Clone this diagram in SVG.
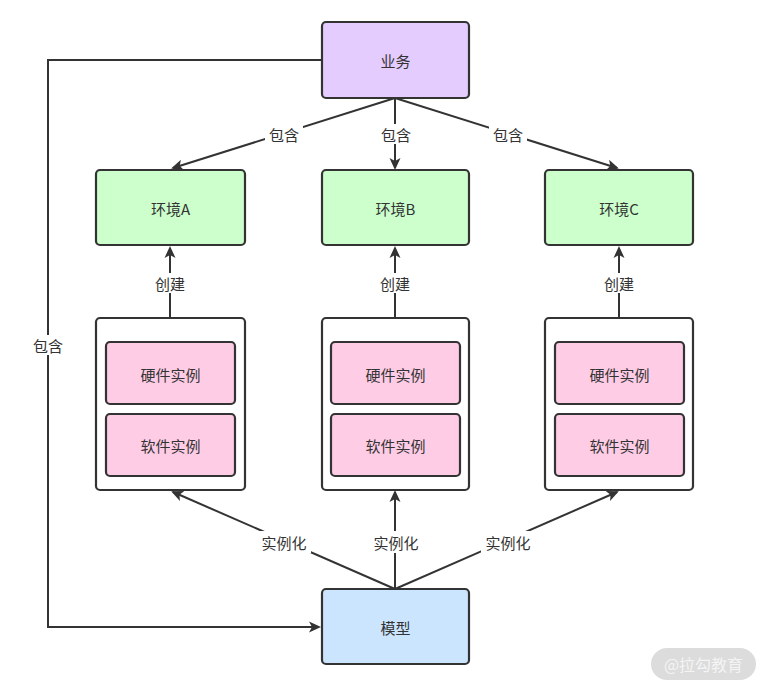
<svg xmlns="http://www.w3.org/2000/svg" width="768" height="688" viewBox="0 0 768 688">
<style>
.box{stroke:#333;stroke-width:2.2}
.t{font-family:"Noto Sans CJK SC","Liberation Sans",sans-serif;font-size:15px;fill:#333;text-anchor:middle;dominant-baseline:central}
.e{fill:none;stroke:#333;stroke-width:2}
.lbl{fill:#fff}
</style>
<defs>
<marker id="ah" markerWidth="12" markerHeight="12" refX="10" refY="6" orient="auto" markerUnits="userSpaceOnUse" viewBox="0 0 12 12">
<path d="M0,0.5 L12,6 L0,11.5 L3,6 Z" fill="#333"/>
</marker>
</defs>
<rect width="768" height="688" fill="#fff"/>
<g id="connectors">
<path class="e" d="M322,60 H48 V627 H319" marker-end="url(#ah)"/>
<rect class="lbl" x="30" y="335" width="36" height="20"/>
<text class="t" x="48" y="345">包含</text>
<path class="e" d="M395,98 L173,168" marker-end="url(#ah)"/>
<path class="e" d="M395,98 V168" marker-end="url(#ah)"/>
<path class="e" d="M395,98 L617,168" marker-end="url(#ah)"/>
<rect class="lbl" x="265" y="124" width="38" height="20"/>
<text class="t" x="284" y="134">包含</text>
<rect class="lbl" x="377" y="124" width="38" height="20"/>
<text class="t" x="396" y="134">包含</text>
<rect class="lbl" x="489" y="124" width="38" height="20"/>
<text class="t" x="508" y="134">包含</text>
<path class="e" d="M170,318 V248" marker-end="url(#ah)"/>
<path class="e" d="M395,318 V248" marker-end="url(#ah)"/>
<path class="e" d="M619,318 V248" marker-end="url(#ah)"/>
<rect class="lbl" x="151" y="273" width="38" height="20"/>
<text class="t" x="170" y="283">创建</text>
<rect class="lbl" x="376" y="273" width="38" height="20"/>
<text class="t" x="395" y="283">创建</text>
<rect class="lbl" x="600" y="273" width="38" height="20"/>
<text class="t" x="619" y="283">创建</text>
<path class="e" d="M395,589 L173,492" marker-end="url(#ah)"/>
<path class="e" d="M395,589 V492" marker-end="url(#ah)"/>
<path class="e" d="M395,589 L617,492" marker-end="url(#ah)"/>
<rect class="lbl" x="257" y="531" width="54" height="22"/>
<text class="t" x="284" y="542">实例化</text>
<rect class="lbl" x="369" y="531" width="54" height="22"/>
<text class="t" x="396" y="542">实例化</text>
<rect class="lbl" x="481" y="531" width="54" height="22"/>
<text class="t" x="508" y="542">实例化</text>
</g>
<g id="business"><rect class="box" x="322" y="22" width="147" height="76" rx="4" fill="#e5ccff"/><text class="t" x="395.5" y="60">业务</text></g>
<g id="envA"><rect class="box" x="96" y="170" width="149" height="75" rx="4" fill="#ccffcc"/><text class="t" x="170.5" y="208">环境A</text></g>
<g id="envB"><rect class="box" x="322" y="170" width="147" height="75" rx="4" fill="#ccffcc"/><text class="t" x="395.5" y="208">环境B</text></g>
<g id="envC"><rect class="box" x="545" y="170" width="148" height="75" rx="4" fill="#ccffcc"/><text class="t" x="619" y="208">环境C</text></g>
<g id="groupA">
<rect class="box" x="96" y="318" width="149" height="172" rx="4" fill="#fff"/>
<rect class="box" x="106" y="342" width="129" height="62" rx="4" fill="#ffcce6"/><text class="t" x="170.5" y="374">硬件实例</text>
<rect class="box" x="106" y="414" width="129" height="62" rx="4" fill="#ffcce6"/><text class="t" x="170.5" y="445">软件实例</text>
</g>
<g id="groupB">
<rect class="box" x="322" y="318" width="147" height="172" rx="4" fill="#fff"/>
<rect class="box" x="331" y="342" width="129" height="62" rx="4" fill="#ffcce6"/><text class="t" x="395.5" y="374">硬件实例</text>
<rect class="box" x="331" y="414" width="129" height="62" rx="4" fill="#ffcce6"/><text class="t" x="395.5" y="445">软件实例</text>
</g>
<g id="groupC">
<rect class="box" x="545" y="318" width="148" height="172" rx="4" fill="#fff"/>
<rect class="box" x="555" y="342" width="129" height="62" rx="4" fill="#ffcce6"/><text class="t" x="619.5" y="374">硬件实例</text>
<rect class="box" x="555" y="414" width="129" height="62" rx="4" fill="#ffcce6"/><text class="t" x="619.5" y="445">软件实例</text>
</g>
<g id="model"><rect class="box" x="322" y="589" width="147" height="75" rx="4" fill="#cce5ff"/><text class="t" x="395.5" y="627">模型</text></g>
<g id="watermark"><rect x="651" y="648" width="105" height="32" rx="16" fill="#dcdcdc"/><text x="703.5" y="664" font-family="Noto Sans CJK SC,sans-serif" font-size="16" fill="#f4f4f4" text-anchor="middle" dominant-baseline="central">@拉勾教育</text></g>
</svg>
